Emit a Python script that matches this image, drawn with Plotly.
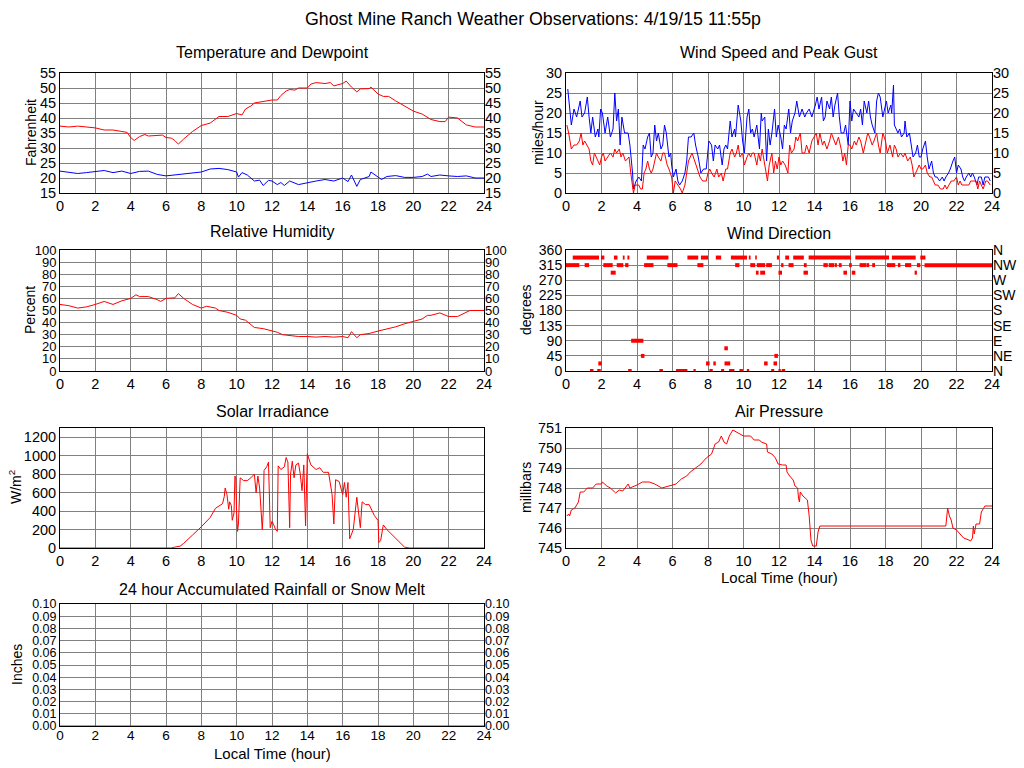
import plotly.graph_objects as go

W, H = 1024, 768
FONT = "Liberation Sans, Arial, Helvetica, sans-serif"
RED, BLUE, GRID = "#ff0000", "#0000ff", "#808080"

hour_ticks = list(range(0, 25, 2))

# ---------------- data ----------------
temp_t = [0, 0.5, 1, 1.5, 2, 2.5, 3, 3.5, 3.8, 4.0, 4.2, 4.5, 4.8, 5, 5.5, 5.8, 6, 6.3, 6.5, 6.7,
          7, 7.5, 8, 8.5, 9, 9.5, 10, 10.3, 10.5, 10.8, 11, 11.5, 12, 12.3, 12.5, 12.8, 13, 13.3,
          13.5, 14, 14.2, 14.5, 15, 15.3, 15.5, 16, 16.2, 16.5, 16.8, 17, 17.5, 17.6, 18, 18.3,
          18.6, 19, 19.5, 20, 20.5, 21, 21.5, 21.8, 22, 22.5, 23, 23.5, 24]
temp_v = [37.3, 37.0, 37.3, 37.0, 36.7, 36.0, 36.0, 35.5, 35.2, 33.5, 32.5, 33.8, 34.5, 34.0, 34.2,
          34.3, 33.5, 33.3, 32.5, 31.3, 33.0, 35.5, 37.5, 38.3, 40.5, 40.5, 41.5, 41.0, 43.0, 44.0,
          45.0, 45.5, 46.0, 46.0, 47.5, 49.0, 49.5, 49.3, 50.0, 50.0, 51.3, 51.8, 51.5, 51.8, 50.7,
          51.5, 52.3, 50.3, 48.7, 49.7, 49.8, 50.3, 48.0, 47.2, 47.2, 45.7, 44.0, 42.3, 41.3, 39.5,
          38.8, 38.8, 40.3, 40.0, 37.7, 37.0, 37.0]

dew_t = [0, 0.5, 1, 1.5, 2, 2.5, 3, 3.5, 4, 4.5, 5, 5.5, 6, 6.5, 7, 7.5, 8, 8.5, 9, 9.5, 10,
         10.1, 10.3, 10.6, 11, 11.3, 11.5, 11.8, 12, 12.3, 12.5, 12.7, 13, 13.5, 14, 14.5, 15,
         15.5, 16, 16.3, 16.5, 16.8, 17, 17.5, 17.6, 18, 18.2, 18.5, 19, 19.5, 20, 20.5, 20.8,
         21, 21.5, 22, 22.5, 23, 23.5, 24]
dew_v = [22.3, 21.8, 21.5, 21.8, 22.2, 22.5, 21.8, 22.3, 21.5, 22.2, 22.3, 21.2, 20.7, 21.0, 21.2,
         21.5, 22.0, 23.0, 23.2, 22.8, 22.0, 20.3, 21.8, 21.0, 19.0, 19.3, 17.5, 19.2, 19.0, 17.8,
         18.5, 17.5, 19.0, 17.8, 18.5, 19.0, 19.5, 19.0, 20.0, 18.8, 21.0, 17.2, 19.5, 20.5, 22.0,
         20.5, 19.5, 20.5, 20.8, 20.2, 20.2, 20.5, 21.3, 20.5, 21.0, 20.7, 20.5, 20.7, 20.0, 20.0]

rh_t = [0, 0.5, 1, 1.5, 2, 2.5, 3, 3.5, 4, 4.3, 4.5, 5, 5.5, 5.7, 6, 6.5, 6.7, 7, 7.5, 8, 8.3,
        8.8, 9, 9.5, 10, 10.2, 10.5, 11, 11.5, 11.8, 12, 12.3, 12.6, 13, 13.5, 14, 14.5, 15, 15.5,
        16, 16.3, 16.5, 16.8, 17, 17.5, 18, 18.5, 19, 19.5, 20, 20.5, 20.8, 21, 21.5, 22, 22.5,
        23, 23.2, 24]
rh_v = [55, 54, 52, 53, 55, 57.5, 55, 58, 60, 63, 61.5, 61.5, 59, 57.5, 60, 60.5, 64, 60, 55, 52,
        53.5, 52, 50, 48.5, 46, 43, 42, 36, 35, 34, 33.5, 32, 30, 29.5, 28.5, 28.5, 28, 28.5, 28,
        28.5, 27.5, 32.5, 27.5, 30, 31, 33, 34.5, 36.5, 39, 41, 43, 46, 46, 48, 45, 45, 48.5, 50, 50]

gust_t = [0.1, 0.2, 0.3, 0.45, 0.6, 0.8, 0.9, 1.05, 1.2, 1.3, 1.4, 1.5, 1.65, 1.8, 1.85, 1.95,
          2.05, 2.2, 2.35, 2.5, 2.65, 2.75, 2.85, 2.95, 3.05, 3.15, 3.3, 3.5, 3.6, 3.75, 3.8, 3.95,
          4.1, 4.25, 4.35, 4.45, 4.6, 4.7, 4.8, 4.9, 5.0, 5.1, 5.2, 5.35, 5.45, 5.55, 5.65, 5.8,
          5.9, 5.95, 6.05, 6.2, 6.3, 6.4, 6.55, 6.7, 6.8, 6.9, 7.05, 7.2, 7.3, 7.45, 7.6, 7.75,
          7.9, 8.05, 8.2, 8.3, 8.4, 8.55, 8.65, 8.8, 8.9, 9.0, 9.1, 9.25, 9.35, 9.5, 9.55, 9.7,
          9.85, 9.95, 10.05, 10.2, 10.3, 10.4, 10.5, 10.6, 10.75, 10.9, 11.0, 11.05, 11.2, 11.3,
          11.4, 11.5, 11.6, 11.75, 11.85, 11.95, 12.1, 12.2, 12.3, 12.4, 12.55, 12.65, 12.75,
          12.9, 13.0, 13.15, 13.3, 13.45, 13.55, 13.7, 13.85, 14.05, 14.15, 14.25, 14.4, 14.5,
          14.6, 14.7, 14.85, 14.95, 15.05, 15.15, 15.3, 15.4, 15.5, 15.65, 15.75, 15.9, 16.0,
          16.1, 16.2, 16.35, 16.5, 16.6, 16.7, 16.8, 16.95, 17.05, 17.15, 17.25, 17.4, 17.5,
          17.6, 17.7, 17.85, 17.95, 18.05, 18.15, 18.3, 18.35, 18.45, 18.5, 18.6, 18.7, 18.8,
          18.9, 19.05, 19.1, 19.2, 19.35, 19.45, 19.55, 19.7, 19.8, 19.9, 20.0, 20.1, 20.25,
          20.35, 20.45, 20.6, 20.7, 20.8, 20.9, 21.05, 21.2, 21.3, 21.4, 21.55, 21.65, 21.8,
          21.9, 22.0, 22.1, 22.25, 22.35, 22.45, 22.55, 22.7, 22.8, 22.9, 23.0, 23.15, 23.25,
          23.4, 23.5, 23.6, 23.8, 23.9]
gust_v = [26, 21, 17, 21, 19, 23, 19, 20, 24, 19, 15, 19, 14, 16, 14, 21,
          20, 15, 19, 14, 16, 25, 18, 21, 12, 19, 15, 15, 12, 5, 1, 3,
          4, 3, 12, 11, 14, 15, 9, 10, 17, 13, 15, 11, 12, 17, 15, 9,
          10, 7, 4, 6, 3, 2, 3, 5, 8, 14, 14, 15, 12, 9, 5, 6,
          6, 13, 12, 8, 12, 11, 12, 7, 11, 12, 11, 18, 14, 16, 14, 22,
          18, 13, 10, 19, 21, 15, 16, 14, 17, 11, 20, 18, 19, 8,
          16, 12, 15, 21, 14, 17, 14, 11, 17, 16, 21, 15, 18,
          20, 23, 19, 21, 19, 20, 21, 19, 22, 24, 21, 24, 18,
          19, 23, 21, 24, 19, 22, 25, 19, 15, 15, 17, 12, 23,
          18, 21, 20, 19, 21, 17, 23, 20, 23, 19, 17, 15, 23,
          25, 24, 19, 21, 23, 20, 22, 20, 27, 17, 16, 15, 16,
          14, 15, 18, 14, 15, 12, 9, 10, 12, 9, 9, 11, 13,
          9, 6, 8, 5, 4, 4, 3, 4, 3, 4, 5, 6, 8,
          9, 5, 7, 6, 4, 3, 4, 5, 4, 5, 4, 2, 4,
          4, 2, 4, 4, 3]

wind_t = [0.05, 0.15, 0.3, 0.45, 0.6, 0.75, 0.85, 0.95, 1.05, 1.2, 1.3, 1.4, 1.5, 1.6, 1.7, 1.8,
          1.9, 2.0, 2.1, 2.2, 2.35, 2.5, 2.65, 2.75, 2.85, 3.0, 3.1, 3.2, 3.35, 3.5, 3.55, 3.65,
          3.75, 3.8, 3.9, 4.0, 4.1, 4.2, 4.3, 4.4, 4.5, 4.6, 4.7, 4.8, 4.9, 5.0, 5.1, 5.2, 5.35,
          5.45, 5.55, 5.7, 5.8, 5.95, 6.05, 6.15, 6.3, 6.45, 6.55, 6.7, 6.8, 6.9, 7.0, 7.1, 7.25,
          7.4, 7.55, 7.7, 7.9, 8.0, 8.1, 8.2, 8.35, 8.5, 8.6, 8.75, 8.85, 9.0, 9.1, 9.25, 9.35,
          9.5, 9.6, 9.7, 9.8, 9.95, 10.05, 10.2, 10.3, 10.4, 10.5, 10.6, 10.75, 10.85, 10.95,
          11.05, 11.15, 11.25, 11.35, 11.45, 11.6, 11.7, 11.8, 11.9, 12.0, 12.1, 12.2, 12.35,
          12.5, 12.6, 12.7, 12.85, 12.95, 13.05, 13.2, 13.3, 13.45, 13.55, 13.7, 13.85, 14.0,
          14.1, 14.2, 14.3, 14.45, 14.55, 14.7, 14.85, 14.95, 15.1, 15.2, 15.35, 15.5, 15.6,
          15.7, 15.8, 15.9, 16.0, 16.1, 16.25, 16.35, 16.5, 16.6, 16.75, 16.9, 17.0, 17.1,
          17.25, 17.35, 17.5, 17.6, 17.7, 17.85, 18.0, 18.1, 18.25, 18.4, 18.5, 18.6, 18.7,
          18.85, 19.0, 19.1, 19.25, 19.4, 19.5, 19.6, 19.7, 19.8, 19.9, 20.0, 20.1, 20.25,
          20.35, 20.5, 20.6, 20.7, 20.8, 20.95, 21.1, 21.25, 21.35, 21.45, 21.6, 21.7, 21.85,
          22.0, 22.1, 22.2, 22.3, 22.5, 22.7, 22.8, 23.0, 23.1, 23.2, 23.3, 23.4, 23.5, 23.65,
          23.75, 23.9]
wind_v = [17, 15, 11, 12, 12, 13, 15, 12, 13, 12, 11, 8, 7, 10, 9, 8,
          7, 9, 10, 8, 9, 10, 9, 11, 10, 11, 9, 10, 8, 9, 9, 5,
          2, 0, 2, 2, 2, 1, 1, 5, 6, 8, 6, 5, 6, 8, 10, 9, 8,
          10, 10, 7, 6, 4, 0, 3, 2, 1, 0, 2, 5, 8, 9, 10, 8,
          6, 4, 3, 3, 5, 6, 5, 4, 6, 4, 5, 3, 6, 6, 10, 11,
          9, 10, 12, 9, 10, 7, 9, 10, 9, 10, 10, 7, 10, 8,
          11, 8, 5, 3, 7, 10, 5, 8, 6, 9, 7, 8, 7,
          5, 12, 10, 11, 14, 13, 15, 10, 10, 12, 10, 13, 14,
          15, 12, 15, 12, 13, 11, 13, 15, 13, 12, 14, 11, 8,
          10, 7, 12, 12, 11, 13, 12, 14, 13, 10, 13, 15, 14,
          12, 13, 15, 12, 10, 15, 13, 10, 12, 9, 12, 11, 9,
          10, 9, 10, 8, 9, 7, 4, 5, 6, 7, 6, 6, 7,
          5, 4, 4, 3, 2, 2, 1, 1, 2, 1, 2, 3, 3,
          4, 2, 3, 2, 2, 2, 3, 3, 3, 1, 3, 2, 1, 3,
          3, 2]

# wind direction: runs of observations (start hour, end hour, degrees)
dir_start = [0.38, 1.97, 2.7, 3.2, 3.46, 4.55, 6.84, 7.6, 8.44, 9.29, 10.3, 10.66, 11.88, 12.35,
             12.8, 13.67, 16.3, 18.36, 19.96,
             0.0, 1.05, 2.1, 2.86, 3.33, 4.4, 5.71, 7.4, 9.53, 10.38, 10.75, 11.28, 12.12, 12.54,
             13.4, 14.5, 14.8, 15.13, 15.37, 15.95, 16.54, 16.92, 17.25, 18.08, 18.7, 19.1, 19.77,
             20.2,
             2.52, 10.7, 10.94, 11.97, 13.38, 15.63, 16.1, 19.64,
             3.67, 8.92, 4.22, 11.74,
             1.82, 7.89, 8.3, 8.93, 11.16, 11.69,
             1.35, 1.76, 3.5, 5.26, 6.2, 7.18, 8.08, 8.74, 9.19, 9.77, 10.19, 11.56, 11.97, 12.15]
dir_end = [1.86, 2.16, 2.9, 3.3, 3.57, 5.77, 7.45, 8.0, 8.74, 10.2, 10.4, 10.75, 12.0, 12.57,
           13.4, 16.05, 18.2, 19.7, 20.25,
           0.75, 1.3, 2.63, 3.23, 3.52, 4.93, 6.28, 7.74, 9.77, 10.66, 11.22, 11.6, 12.25, 12.82,
           13.56, 14.75, 15.1, 15.26, 15.53, 16.1, 16.9, 17.08, 17.41, 18.55, 18.84, 19.45, 19.96,
           24.0,
           2.8, 10.85, 11.22, 12.17, 13.63, 15.83, 16.3, 19.77,
           4.36, 9.12, 4.42, 11.94,
           2.02, 8.09, 8.44, 9.25, 11.36, 11.89,
           1.55, 1.96, 3.7, 5.46, 6.84, 7.31, 8.27, 8.91, 9.49, 9.97, 10.32, 11.73, 12.1, 12.35]
dir_deg = [337.5] * 19 + [315] * 28 + [292.5] * 8 + [90, 67.5, 45, 45] + [22.5] * 6 + [0] * 14

solar_t = [0, 6.3, 6.5, 6.8, 7.0, 7.3, 7.5, 8.0, 8.5, 8.8, 9.0, 9.2, 9.3, 9.35, 9.45, 9.55, 9.6,
           9.7, 9.75, 9.85, 9.9, 9.95, 10.0, 10.05, 10.1, 10.2, 10.4, 10.6, 10.8, 11.0, 11.1, 11.2,
           11.3, 11.45, 11.5, 11.55, 11.7, 11.8, 11.9, 12.0, 12.1, 12.2, 12.3, 12.35, 12.5, 12.7,
           12.8, 12.9, 13.0, 13.05, 13.15, 13.25, 13.35, 13.5, 13.6, 13.7, 13.8, 13.9, 14.0, 14.2,
           14.5, 14.7, 14.9, 15.2, 15.4, 15.5, 15.6, 15.8, 16.0, 16.1, 16.2, 16.3, 16.4, 16.6,
           16.8, 17.0, 17.1, 17.3, 17.5, 17.8, 18.0, 18.05, 18.15, 18.3, 18.5, 18.8, 19.0, 19.3,
           19.5, 19.8, 24]
solar_v = [0, 0, 10, 20, 50, 100, 140, 230, 330, 430, 460, 480, 560, 650, 580, 420, 500,
           460, 300, 380, 780, 760, 370, 180, 260, 760, 730, 730, 760, 800, 600, 780,
           650, 200, 380, 840, 880, 930, 220, 290, 250, 200, 180, 890, 850, 880,
           980, 930, 220, 800, 940, 760, 900, 920, 800, 620, 900, 240, 1020, 900,
           850, 870, 820, 820, 580, 260, 740, 720, 580, 710, 550, 710, 100, 200,
           550, 220, 500, 470, 470, 350, 300, 60, 80, 250, 200, 140, 100, 50,
           10, 0, 0]

pres_t = [0.05, 0.15, 0.2, 0.3, 0.5, 0.7, 0.8, 1.0, 1.2, 1.5, 1.7, 2.0, 2.05, 2.3, 2.5, 2.8, 3.0,
          3.2, 3.5, 3.6, 4.0, 4.3, 4.7, 5.0, 5.4, 5.8, 6.2, 6.5, 6.8, 7.0, 7.3, 7.6, 7.9, 8.2, 8.4,
          8.6, 8.75, 8.9, 9.05, 9.2, 9.4, 9.6, 9.8, 10.0, 10.4, 10.6, 10.9, 11.0, 11.3, 11.35, 11.6,
          11.8, 11.95, 12.2, 12.4, 12.45, 12.6, 12.8, 12.9, 13.05, 13.1, 13.15, 13.2, 13.35, 13.6,
          13.7, 13.8, 13.9, 14.1, 14.2, 14.3, 21.4, 21.5, 21.6, 21.7, 21.8, 22.0, 22.2, 22.4, 22.7,
          22.8, 22.9, 22.95, 23.0, 23.1, 23.3, 23.4, 23.6, 23.8, 24]
pres_v = [746.6, 746.7, 746.6, 746.9, 747.0, 747.3, 747.8, 747.8, 748.0, 748.0, 748.2, 748.2,
          748.3, 748.1, 748.0, 747.75, 747.9, 747.85, 748.2, 748.0, 748.15, 748.3, 748.3, 748.2,
          748.0, 748.1, 748.2, 748.45, 748.6, 748.8, 749.0, 749.2, 749.5, 749.7, 750.2, 750.3,
          750.6, 750.3, 750.2, 750.6, 750.9, 750.8, 750.7, 750.6, 750.6, 750.4, 750.4, 750.3,
          750.2, 749.8, 749.7, 749.5, 749.2, 749.15, 749.15, 748.8, 748.6, 748.4, 748.1, 748.0,
          747.5, 747.3, 747.8, 747.6, 747.4, 746.6, 745.4, 745.1, 745.1, 745.8, 746.1, 746.1,
          747.0, 746.6, 746.4, 746.0, 745.9, 745.7, 745.5, 745.4, 745.35, 745.5, 746.1, 745.7,
          746.2, 746.2, 746.8, 747.1, 747.1, 747.1]

rain_t = [0, 24]
rain_v = [0.0, 0.0]

# ---------------- layout helpers ----------------
def px_x(px):
    return px / W

def px_y(py):
    return 1 - py / H

LX = [px_x(60), px_x(484)]
RX = [px_x(566), px_x(992)]
ROWS = [(73, 193), (250, 371), (428, 548), (604, 726)]

def ydom(r):
    top, bot = ROWS[r]
    return [px_y(bot), px_y(top)]

def tf(size):
    return dict(family=FONT, size=size, color="black")

tickfont = tf(14.5)

def xaxis(dom, anchor, font=tickfont, standoff=0):
    return dict(domain=dom, anchor=anchor, range=[0, 24], tickvals=hour_ticks,
                showgrid=True, gridcolor=GRID, gridwidth=1, showline=True, mirror=True,
                linecolor="black", linewidth=1, ticks="", zeroline=False, tickfont=font,
                fixedrange=True, automargin=False, ticklabelstandoff=standoff)

def yaxis(dom, anchor, rng, vals, text=None, font=tickfont):
    d = dict(domain=dom, anchor=anchor, range=rng, tickvals=vals, showgrid=True,
             gridcolor=GRID, gridwidth=1, showline=True, mirror=True, linecolor="black",
             linewidth=1, ticks="", zeroline=False, tickfont=font, fixedrange=True,
             automargin=False)
    if text is not None:
        d["ticktext"] = text
    return d

def yright(over, anchor, rng, vals, text=None, font=tickfont):
    d = dict(overlaying=over, anchor=anchor, side="right", range=rng, tickvals=vals,
             showgrid=False, showline=False, zeroline=False, ticks="", tickfont=font,
             fixedrange=True, automargin=False)
    if text is not None:
        d["ticktext"] = text
    return d

temp_ticks = list(range(15, 56, 5))
wind_ticks = list(range(0, 31, 5))
rh_ticks = list(range(0, 101, 10))
dir_ticks = list(range(0, 361, 45))
dir_names = ["N", "NE", "E", "SE", "S", "SW", "W", "NW", "N"]
solar_ticks = list(range(0, 1201, 200))
pres_ticks = list(range(745, 752))
rain_ticks = [i / 100 for i in range(0, 11)]
rain_text = ["%.2f" % v for v in rain_ticks]

fig = go.Figure()

def line(x, y, color, xa, ya):
    fig.add_trace(go.Scatter(x=x, y=y, mode="lines", line=dict(color=color, width=1),
                             xaxis=xa, yaxis=ya, hoverinfo="skip", showlegend=False))

def ghost(xa, ya, y0):
    fig.add_trace(go.Scatter(x=[0], y=[y0], mode="markers", marker=dict(opacity=0),
                             xaxis=xa, yaxis=ya, hoverinfo="skip", showlegend=False))

line(temp_t, temp_v, RED, "x", "y")
line(dew_t, dew_v, BLUE, "x", "y")
ghost("x", "y8", 20)

line(gust_t, gust_v, BLUE, "x2", "y2")
line(wind_t, wind_v, RED, "x2", "y2")
ghost("x2", "y9", 5)

line(rh_t, rh_v, RED, "x3", "y3")
ghost("x3", "y10", 50)

dx, dy = [], []
for s, e, d in zip(dir_start, dir_end, dir_deg):
    dx += [s, e, None]
    dy += [d, d, None]
fig.add_trace(go.Scatter(x=dx, y=dy, mode="lines", line=dict(color=RED, width=4),
                         xaxis="x4", yaxis="y4", hoverinfo="skip", showlegend=False))
ghost("x4", "y11", 180)

line(solar_t, solar_v, RED, "x5", "y5")
line(pres_t, pres_v, RED, "x6", "y6")
line(rain_t, rain_v, RED, "x7", "y7")
ghost("x7", "y12", 0.05)

fig.update_layout(
    width=W, height=H, autosize=False,
    margin=dict(l=0, r=0, t=0, b=0, pad=0, autoexpand=False),
    paper_bgcolor="white", plot_bgcolor="white",
    font=dict(family=FONT, size=15, color="black"),
    showlegend=False,
    xaxis=xaxis(LX, "y"), yaxis=yaxis(ydom(0), "x", [15, 55], temp_ticks),
    xaxis2=xaxis(RX, "y2"), yaxis2=yaxis(ydom(0), "x2", [0, 30], wind_ticks),
    xaxis3=xaxis(LX, "y3"), yaxis3=yaxis(ydom(1), "x3", [0, 100], rh_ticks, None, tf(13)),
    xaxis4=xaxis(RX, "y4"), yaxis4=yaxis(ydom(1), "x4", [0, 360], dir_ticks, None, tf(14)),
    xaxis5=xaxis(LX, "y5"), yaxis5=yaxis(ydom(2), "x5", [0, 1300], solar_ticks),
    xaxis6=xaxis(RX, "y6"), yaxis6=yaxis(ydom(2), "x6", [745, 751], pres_ticks),
    xaxis7=xaxis(LX, "y7", tf(13.5), -3),
    yaxis7=yaxis(ydom(3), "x7", [0, 0.1], rain_ticks, rain_text, tf(12.5)),
    yaxis8=yright("y", "x", [15, 55], temp_ticks),
    yaxis9=yright("y2", "x2", [0, 30], wind_ticks),
    yaxis10=yright("y3", "x3", [0, 100], rh_ticks, None, tf(13)),
    yaxis11=yright("y4", "x4", [0, 360], dir_ticks, dir_names, tf(14)),
    yaxis12=yright("y7", "x7", [0, 0.1], rain_ticks, rain_text, tf(12.5)),
)

ann = []
def text(s, x, y, size=16, angle=0):
    ann.append(dict(text=s, x=px_x(x), y=px_y(y), xref="paper", yref="paper",
                    showarrow=False, textangle=angle, xanchor="center", yanchor="middle",
                    font=dict(family=FONT, size=size, color="black")))

text("Ghost Mine Ranch Weather Observations: 4/19/15 11:55p", 533, 19, 17.8)
text("Temperature and Dewpoint", 272, 53)
text("Wind Speed and Peak Gust", 779, 53)
text("Relative Humidity", 272, 231)
text("Wind Direction", 779, 233)
text("Solar Irradiance", 272, 411)
text("Air Pressure", 779, 411)
text("24 hour Accumulated Rainfall or Snow Melt", 272, 589)
text("Local Time (hour)", 779, 577, 15)
text("Local Time (hour)", 272, 753, 15)
text("Fahrenheit", 31, 133, 14, -90)
text("miles/hour", 538, 133, 14, -90)
text("Percent", 30, 310, 14, -90)
text("degrees", 526, 310, 14, -90)
text("W/m<sup>2</sup>", 15, 487, 14, -90)
text("millibars", 526, 488, 14, -90)
text("Inches", 17, 665, 14, -90)
fig.update_layout(annotations=ann)

fig.write_html("out.html", config={"displayModeBar": False},
               post_script="document.body.style.margin='0';")
